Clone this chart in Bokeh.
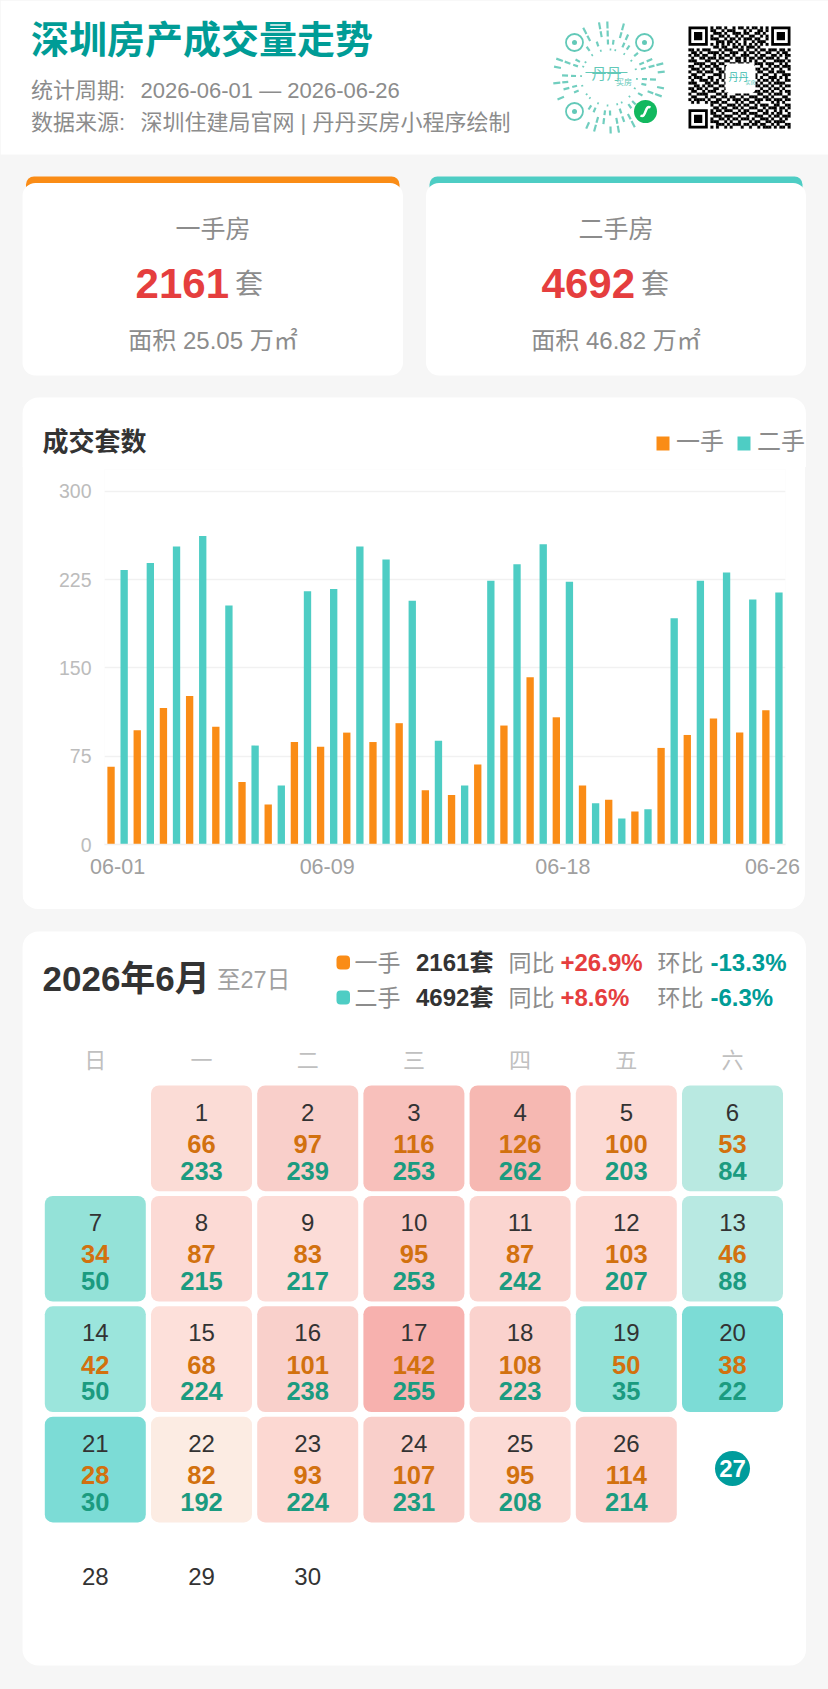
from bokeh.plotting import figure
from bokeh.layouts import column
from bokeh.models import ColumnDataSource, FixedTicker
from bokeh.core.properties import value
from bokeh.embed import file_html
from bokeh.resources import INLINE
import numpy as np

days = list(range(1, 27))
first_hand = [66, 97, 116, 126, 100, 53, 34, 87, 83, 95, 87, 103, 46, 42, 68, 101, 142, 108, 50, 38, 28, 82, 93, 107, 95, 114]
second_hand = [233, 239, 253, 262, 203, 84, 50, 215, 217, 253, 242, 207, 88, 50, 224, 238, 255, 223, 35, 22, 30, 192, 224, 231, 208, 214]
heat_colors = ["#fbdcd6", "#f9cfca", "#f8c0bb", "#f6b8b2", "#fcdad5", "#b9e9e1", "#94e2d8", "#fcdad5", "#fcdcd7",
               "#f9c9c5", "#fbd5d0", "#fcd8d3", "#b8e9e2", "#9be5dc", "#fde0da", "#f9d0cb", "#f7b1ae", "#fad2cd",
               "#93e2d8", "#7cdcd6", "#7cdcd6", "#fcece3", "#fcd8d2", "#f9cfca", "#fcdbd6", "#fad2cd"]
x_tick_idx = [0, 8, 17, 25]
x_tick_labels = ["06-01", "06-09", "06-18", "06-26"]
y_ticks = [0, 75, 150, 225, 300]
weekdays = ["日", "一", "二", "三", "四", "五", "六"]
FONT = "Liberation Sans, Noto Sans CJK SC"
BG = "#f6f6f6"
ORANGE = "#fa8c16"
TEAL = "#4ecdc4"
TITLE_TEAL = "#009c96"
RED = "#e53e3e"
GREY = "#8c8c8c"
DARK = "#333333"

QR_ROWS = [
    "0000000010110100101101011010100000000",
    "0000000011001011100010100110100000000",
    "0000000001110100111011001101000000000",
    "0000000010011010010100110010100000000",
    "0000000011100101101011101100100000000",
    "0000000000111011010010010111000000000",
    "0000000010101010101010101010100000000",
    "0000000001101100110101110100000000000",
    "1101011100010111001101001011011101101",
    "0110100111101001110010110100110010110",
    "1011011001010110100111001011001101011",
    "0100110111011001011010110110111010010",
    "1110001100100110011010101001000111101",
    "0011110011011001101101001110111001010",
    "1100101101100101011010110010010110111",
    "0111010010110110100101101101101001001",
    "1001101110011001011010010110011011100",
    "0110010001110101100110101001100100111",
    "1011100110010110011001011010011101010",
    "0100111010101001110110100101101010011",
    "1110001101100110001011011010010111100",
    "0011010110011010110100101101101001011",
    "1101101001100101001101010010010110100",
    "0110010111001011101011011101101001011",
    "1001111000110100011011000110010111001",
    "0110001011001101100100111001101000110",
    "1011110100110010111011001110110111011",
    "0101001011101100010100110100001010100",
    "0000000010010011101011001011100110011",
    "0000000001101100110100111001011101101",
    "0000000010110111001011000110100101010",
    "0000000011001000110110111001101011001",
    "0000000001110111001001001110010110111",
    "0000000010011010110111010011101001010",
    "0000000011100101001000101100110111100",
    "0000000000111010111011011011001010011",
    "0000000010100101000100100101110101101",
]
RING_0 = "101010110101011010101101010110101010"
RING_1 = "110101101011011010110101101101011011010110"
RING_2 = "101101011101101011011101011010110111010110"
RING_3 = "011011010110110101101011011010110101101011"
CODE_TEAL = "#62c9b8"


def make_page_fig(h, y0):
    f = figure(width=828, height=h, x_range=(0, 828), y_range=(y0 + h, y0), output_backend="svg",
               toolbar_location=None, min_border=0, outline_line_color=None,
               x_axis_location=None, y_axis_location=None, frame_align=False,
               background_fill_color=BG, border_fill_color=BG)
    f.grid.visible = False
    return f


def txt(f, x, y, s, size, color, align="left", bold=False):
    f.text(x=[x], y=[y], text=[s], text_font=value(FONT), text_font_size=f"{size}px", text_color=color,
           text_align=align, text_baseline="middle", text_font_style="bold" if bold else "normal")


# ---------- header + KPI cards + chart heading ----------
top = make_page_fig(467, 0)
top.quad(left=[0], right=[828], top=[0], bottom=[154], fill_color="white", line_color=None)
txt(top, 30.5, 39, "深圳房产成交量走势", 38, TITLE_TEAL, bold=True)
txt(top, 30.5, 90, "统计周期:", 22, GREY)
txt(top, 140, 90, "2026-06-01 — 2026-06-26", 22, GREY)
txt(top, 30.5, 122, "数据来源:", 22, GREY)
txt(top, 140, 122, "深圳住建局官网 | 丹丹买房小程序绘制", 22, GREY)

# mini-program code (decorative)
cx, cy = 608.5, 77.0
eyes = [(574, 42), (644, 42), (574, 111), (645, 111)]
x0s, y0s, x1s, y1s, lws = [], [], [], [], []
for pat, r0, r1, lw in ((RING_0, 27, 29, 1.6), (RING_1, 33, 38, 2.2), (RING_2, 41, 47, 2.2), (RING_3, 49, 56, 2.2)):
    for i, c in enumerate(pat):
        if c != "1":
            continue
        a = 2 * np.pi * (i + 0.3) / len(pat)
        xa, ya = cx + r0 * np.cos(a), cy + r0 * np.sin(a)
        xb, yb = cx + r1 * np.cos(a), cy + r1 * np.sin(a)
        if any(np.hypot((xa + xb) / 2 - ex, (ya + yb) / 2 - ey) < 14 for ex, ey in eyes):
            continue
        x0s.append(xa); y0s.append(ya); x1s.append(xb); y1s.append(yb); lws.append(lw)
top.segment(x0=x0s, y0=y0s, x1=x1s, y1=y1s, line_color=CODE_TEAL, line_width=lws, line_alpha=0.9)
for ex, ey in eyes[:3]:
    top.scatter(x=[ex], y=[ey], size=17, fill_color=None, line_color=CODE_TEAL, line_width=1.8)
    top.scatter(x=[ex], y=[ey], size=5, fill_color=CODE_TEAL, line_color=None)
top.scatter(x=[645], y=[111], size=23, fill_color="#12b85f", line_color=None)
top.bezier(x0=[640], y0=[115], x1=[650], y1=[107], cx0=[646], cy0=[118], cx1=[644], cy1=[104],
           line_color="white", line_width=2.4)
txt(top, 591, 73, "丹丹", 15, CODE_TEAL)
txt(top, 615.5, 82, "买房", 8, CODE_TEAL)
top.segment(x0=[585], y0=[72], x1=[627], y1=[72], line_color=CODE_TEAL, line_width=1.2)

# QR code (decorative)
qx, qy, qs = 688.0, 26.0, 102.0 / 37
ql, qr, qt, qb = [], [], [], []
for j, row in enumerate(QR_ROWS):
    for i, c in enumerate(row):
        if c == "1":
            ql.append(qx + i * qs); qr.append(qx + (i + 1) * qs); qt.append(qy + j * qs); qb.append(qy + (j + 1) * qs)
top.quad(left=ql, right=qr, top=qt, bottom=qb, fill_color="black", line_color="black", line_width=0.2)
for fx, fy in ((0, 0), (30, 0), (0, 30)):
    bx, by = qx + fx * qs, qy + fy * qs
    top.quad(left=[bx], right=[bx + 7 * qs], top=[by], bottom=[by + 7 * qs], fill_color="black", line_color=None)
    top.quad(left=[bx + qs], right=[bx + 6 * qs], top=[by + qs], bottom=[by + 6 * qs], fill_color="white", line_color=None)
    top.quad(left=[bx + 2 * qs], right=[bx + 5 * qs], top=[by + 2 * qs], bottom=[by + 5 * qs], fill_color="black", line_color=None)
top.quad(left=[725], right=[755], top=[63], bottom=[93], fill_color="white", line_color=None, border_radius=5)
txt(top, 728, 77, "丹丹", 10, "#3cbcae")
txt(top, 745, 81, "买房", 5, "#3cbcae")

# KPI cards
for (l, r, strip, name, num, area, cxm, num_r) in (
        (22, 402.5, ORANGE, "一手房", "2161", "面积 25.05 万㎡", 212.5, 228.5),
        (425.5, 805.5, TEAL, "二手房", "4692", "面积 46.82 万㎡", 615.5, 634.5)):
    top.quad(left=[l + 3.5], right=[r - 3.5], top=[176], bottom=[196], fill_color=strip, line_color=None, border_radius=8)
    top.quad(left=[l], right=[r], top=[182.5], bottom=[375], fill_color="white", line_color=None, border_radius=13)
    txt(top, cxm, 228.5, name, 25, GREY, "center")
    txt(top, num_r, 283, num, 42, RED, "right", bold=True)
    txt(top, num_r + 6, 284, "套", 28, GREY)
    txt(top, cxm, 339.5, area, 24, GREY, "center")

# heading of the bar-chart card
top.quad(left=[22], right=[805.5], top=[397], bottom=[520], fill_color="white", line_color=None, border_radius=16)
txt(top, 42, 441, "成交套数", 26, DARK, bold=True)
for (sw, name, col) in ((656, "一手", ORANGE), (737, "二手", TEAL)):
    top.quad(left=[sw], right=[sw + 13], top=[436], bottom=[450], fill_color=col, line_color=None)
    txt(top, sw + 19.5, 441, name, 24, GREY)

# ---------- bar chart ----------
src = ColumnDataSource(dict(idx=np.arange(len(days)), x1=np.arange(len(days)) - 0.25, x2=np.arange(len(days)) + 0.25,
                            first=first_hand, second=second_hand))
chart = figure(width=783, height=444, x_range=(-0.5, 25.5), y_range=(0, 318.4), output_backend="svg",
               toolbar_location=None, min_border_left=82, min_border_right=20, min_border_top=4, min_border_bottom=65,
               outline_line_color=None, background_fill_color="white", border_fill_color="white",
               frame_align=False, margin=(-2, 23, 0, 22))
chart.styles = {"border-radius": "0 0 16px 16px", "overflow": "hidden"}
chart.vbar(x="x1", top="first", width=0.28, source=src, fill_color=ORANGE, line_color=None)
chart.vbar(x="x2", top="second", width=0.28, source=src, fill_color=TEAL, line_color=None)
chart.xgrid.visible = False
chart.ygrid.ticker = FixedTicker(ticks=y_ticks)
chart.ygrid.grid_line_color = "#f1f1f1"
chart.ygrid.grid_line_width = 1.5
chart.yaxis.ticker = FixedTicker(ticks=y_ticks)
chart.yaxis.axis_line_color = None
chart.yaxis.major_tick_line_color = None
chart.yaxis.minor_tick_line_color = None
chart.yaxis.major_label_standoff = 7
chart.yaxis.major_label_text_font = FONT
chart.yaxis.major_label_text_font_size = "19.5px"
chart.yaxis.major_label_text_color = "#bcbcbc"
chart.xaxis.ticker = FixedTicker(ticks=x_tick_idx)
chart.xaxis.major_label_overrides = dict(zip(x_tick_idx, x_tick_labels))
chart.xaxis.axis_line_color = "#f0f0f0"
chart.xaxis.axis_line_width = 1.5
chart.xaxis.major_tick_line_color = None
chart.xaxis.minor_tick_line_color = None
chart.xaxis.major_label_standoff = 8
chart.xaxis.major_label_text_font = FONT
chart.xaxis.major_label_text_font_size = "21.5px"
chart.xaxis.major_label_text_color = "#a0a0a0"

# ---------- calendar ----------
cal = make_page_fig(780, 909)
cal.quad(left=[22], right=[805.5], top=[931], bottom=[1665], fill_color="white", line_color=None, border_radius=16)
txt(cal, 42, 978, "2026年6月", 35, DARK, bold=True)
txt(cal, 216.5, 979.5, "至27日", 23.5, "#a0a0a0")
for (y, col, name, tot, yoy, mom) in ((962, ORANGE, "一手", "2161套", "+26.9%", "-13.3%"),
                                      (997, TEAL, "二手", "4692套", "+8.6%", "-6.3%")):
    cal.quad(left=[336], right=[349.5], top=[y - 7], bottom=[y + 7], fill_color=col, line_color=None, border_radius=4)
    txt(cal, 354, y, name, 23, GREY)
    txt(cal, 415.5, y, tot, 24, DARK, bold=True)
    txt(cal, 508, y, "同比", 23, GREY)
    txt(cal, 560, y, yoy, 24, RED, bold=True)
    txt(cal, 657, y, "环比", 23, GREY)
    txt(cal, 710, y, mom, 24, TITLE_TEAL, bold=True)

col_step, row_step, cell_w, cell_h = 106.2, 110.4, 101.0, 105.7
col_c = [94.8 + i * col_step for i in range(7)]
for i, w in enumerate(weekdays):
    txt(cal, col_c[i], 1060, w, 22, "#c0c0c0", "center")

cols, rows = [], []
for d in days:
    pos = d - 1 + 1  # 1 June 2026 is a Monday
    cols.append(pos % 7)
    rows.append(pos // 7)
cx_cell = [col_c[c] for c in cols]
top_cell = [1085 + r * row_step for r in rows]
cell_src = ColumnDataSource(dict(
    left=[x - cell_w / 2 for x in cx_cell], right=[x + cell_w / 2 for x in cx_cell],
    top=top_cell, bottom=[t + cell_h for t in top_cell], color=heat_colors, x=cx_cell,
    y_day=[t + 26.5 for t in top_cell], y_a=[t + 58.5 for t in top_cell], y_b=[t + 85 for t in top_cell],
    day=[str(d) for d in days], a=[str(v) for v in first_hand], b=[str(v) for v in second_hand]))
cal.quad(left="left", right="right", top="top", bottom="bottom", fill_color="color", line_color=None,
         border_radius=8, source=cell_src)
for yname, tname, col, size, style in (("y_day", "day", DARK, 24, "normal"), ("y_a", "a", "#d2710f", 25.5, "bold"),
                                       ("y_b", "b", "#1b9b80", 25.5, "bold")):
    cal.text(x="x", y=yname, text=tname, source=cell_src, text_font=value(FONT), text_font_size=f"{size}px",
             text_color=col, text_align="center", text_baseline="middle", text_font_style=style)
cal.scatter(x=[col_c[6]], y=[1468], size=35, fill_color="#009c9c", line_color=None)
txt(cal, col_c[6], 1468, "27", 24, "white", "center", bold=True)
for i, d in enumerate(("28", "29", "30")):
    txt(cal, col_c[i], 1576, d, 24, DARK, "center")

p = column(top, chart, cal, spacing=0, styles={"background": BG, "width": "828px"})
open("out.html", "w").write(file_html(p, INLINE))
